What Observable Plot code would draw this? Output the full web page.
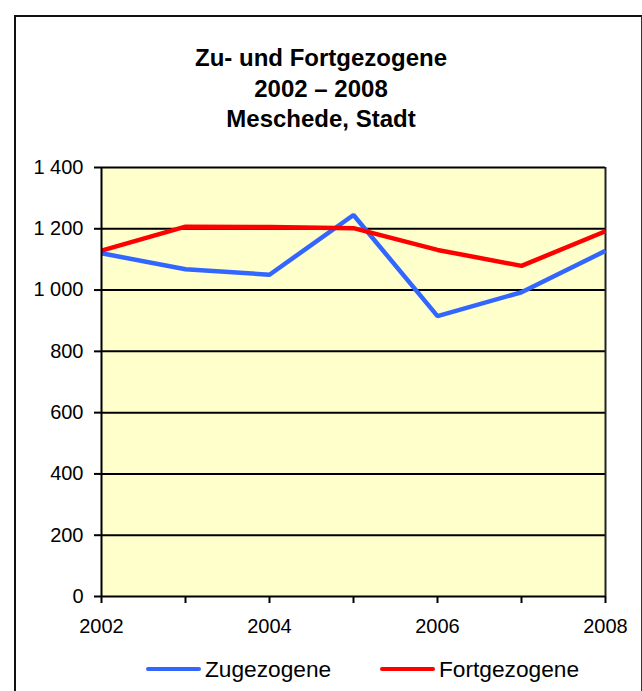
<!DOCTYPE html>
<html>
<head>
<meta charset="utf-8">
<script src="https://cdn.jsdelivr.net/npm/d3@7"></script>
<script src="https://cdn.jsdelivr.net/npm/@observablehq/plot@0.6"></script>
<style>
  html, body { margin: 0; padding: 0; background: #fff; overflow: hidden; }
  #wrap { position: relative; width: 642px; height: 691px; overflow: hidden; font-family: "Liberation Sans", Arial, sans-serif; }
  #frame { position: absolute; left: 14px; top: 15px; width: 625px; height: 700px; border-left: 2px solid #111; border-top: 2px solid #111; border-right: 1px solid #333; }
  #title { position: absolute; left: 0; width: 642px; top: 43px; text-align: center; font-weight: bold; font-size: 24px; line-height: 30.5px; color: #000; }
  #chart { position: absolute; left: 0; top: 0; }
  #legend { position: absolute; top: 655px; left: 0; width: 642px; height: 30px; font-size: 22.7px; color: #000; }
  .lg { position: absolute; top: 0; display: flex; align-items: center; height: 28px; }
  .sw { display: inline-block; width: 55px; height: 4px; border-radius: 2px; margin-right: 4px; }
</style>
</head>
<body>
<div id="wrap">
  <div id="frame"></div>
  <div id="chart"></div>
  <div id="title">Zu- und Fortgezogene<br>2002 – 2008<br>Meschede, Stadt</div>
  <div id="legend"></div>
</div>
<script>
const years = [2002, 2003, 2004, 2005, 2006, 2007, 2008];
const zugezogene = [1120, 1068, 1050, 1245, 915, 993, 1128];
const fortgezogene = [1129, 1207, 1206, 1202, 1131, 1079, 1192];
const seriesNames = ["Zugezogene", "Fortgezogene"];
const seriesColors = ["#3366FF", "#FF0000"];
const yTicks = [0, 200, 400, 600, 800, 1000, 1200, 1400];
const xLabelYears = [2002, 2004, 2006, 2008];

const rows = [];
years.forEach((y, i) => {
  rows.push({year: y, value: zugezogene[i], series: seriesNames[0]});
  rows.push({year: y, value: fortgezogene[i], series: seriesNames[1]});
});

const fmt = d => d3.format(",")(d).replace(/,/g, " ");

const plot = Plot.plot({
  width: 642,
  height: 691,
  marginLeft: 101,
  marginRight: 37,
  marginTop: 167,
  marginBottom: 95,
  style: { fontFamily: "'Liberation Sans', Arial, sans-serif", fontSize: "20px", color: "#000", background: "transparent", overflow: "visible" },
  x: { domain: [2002, 2008] },
  y: { domain: [0, 1400] },
  color: { domain: seriesNames, range: seriesColors },
  marks: [
    Plot.rect([{}], { x1: 2002, x2: 2008, y1: 0, y2: 1400, fill: "#FFFFCC" }),
    Plot.ruleY(yTicks.filter(d => d > 0), { stroke: "#000", strokeWidth: 2 }),
    Plot.ruleX([2008], { stroke: "#222", strokeWidth: 2 }),
    Plot.axisY({ ticks: yTicks, tickFormat: fmt, tickSize: 7, tickPadding: 11, strokeWidth: 2, label: null, fontSize: 20 }),
    Plot.axisX({ ticks: years, tickFormat: d => xLabelYears.includes(d) ? String(d) : "", tickSize: 7, tickPadding: 15, strokeWidth: 2, label: null, fontSize: 20 }),
    Plot.line(rows, { x: "year", y: "value", stroke: "series", z: "series", strokeWidth: 4.5, strokeLinejoin: "miter", strokeLinecap: "butt" }),
    Plot.ruleX([2002], { stroke: "#000", strokeWidth: 2 }),
    Plot.ruleY([0], { stroke: "#000", strokeWidth: 2 })
  ]
});
document.getElementById("chart").appendChild(plot);

const legend = document.getElementById("legend");
const lefts = [146, 380];
seriesNames.forEach((name, i) => {
  const item = document.createElement("div");
  item.className = "lg";
  item.style.left = lefts[i] + "px";
  const sw = document.createElement("span");
  sw.className = "sw";
  sw.style.background = seriesColors[i];
  const t = document.createElement("span");
  t.textContent = name;
  item.appendChild(sw);
  item.appendChild(t);
  legend.appendChild(item);
});
</script>
</body>
</html>
